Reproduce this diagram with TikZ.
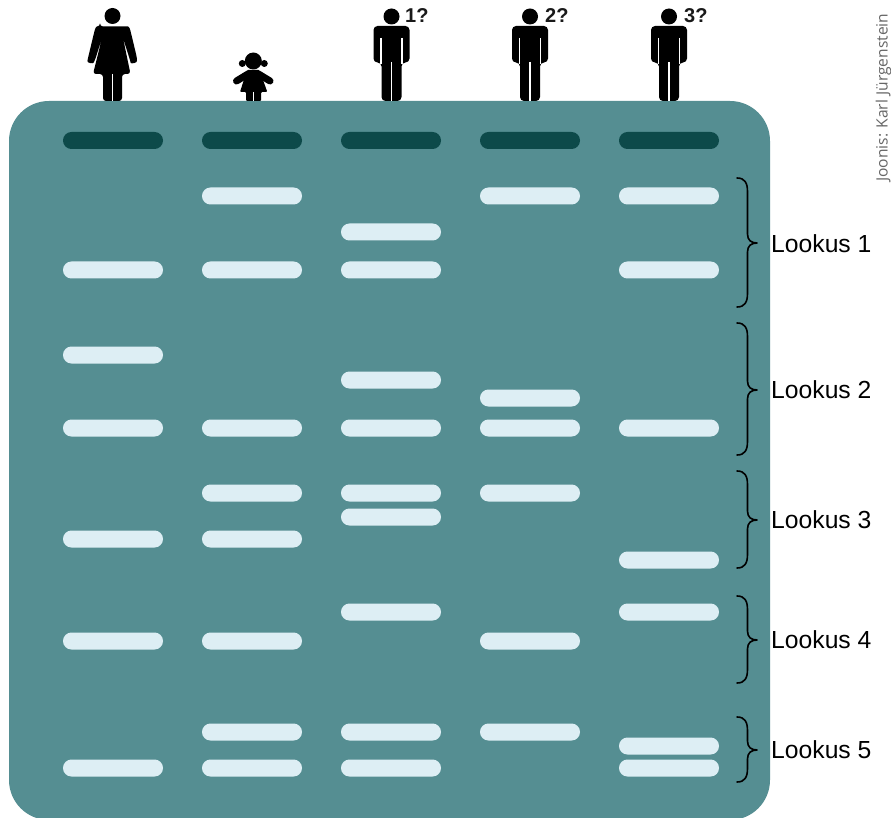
\documentclass[tikz,border=0pt]{standalone}
\usepackage{fontspec}
\setmainfont{Liberation Sans}
\newfontfamily\creditfont{Open Sans}
\definecolor{gelbg}{HTML}{558E92}
\definecolor{bandlight}{HTML}{DDEEF4}
\definecolor{banddark}{HTML}{0D4A4A}
\tikzset{
  band/.style={fill=bandlight,rounded corners=8.4pt},
  darkband/.style={fill=banddark,rounded corners=8.4pt},
  gap/.style={draw=white,line width=1.2pt},
  bracket/.style={draw=black,line width=1.6pt,line cap=round,line join=round},
  locuslabel/.style={anchor=west,inner sep=0pt,font=\fontsize{24.7}{25}\selectfont,text=black},
  qlabel/.style={anchor=west,inner sep=0pt,font=\bfseries\fontsize{20}{20}\selectfont,text=black!90},
  armlimb/.style={draw=black,line width=7pt,line cap=round},
}
\newcommand{\laneband}[2]{\path[band] (#1-50,#2-8.5) rectangle (#1+50,#2+8.5);}
\newcommand{\manfig}[1]{%
  \fill[black] (#1,16.5) circle (8);
  \fill[black,rounded corners=4pt] (#1-18,62.5) -- (#1-18,26) -- (#1+18,26) -- (#1+18,62.5) -- (#1+10,62.5) -- (#1+10,101) -- (#1-10,101) -- (#1-10,62.5) -- cycle;
  \draw[gap] (#1-10.5,38) -- (#1-10.5,64);
  \draw[gap] (#1+10.5,38) -- (#1+10.5,64);
  \draw[gap] (#1,62) -- (#1,101.5);
}
\newcommand{\locusbrace}[3]{%
  \draw[bracket] (737,#1) .. controls (745,#1) and (747.5,#1+5) .. (747.5,#1+14)
    -- (747.5,#3-9) .. controls (747.5,#3-3) and (751,#3) .. (757,#3)
    .. controls (751,#3) and (747.5,#3+3) .. (747.5,#3+9)
    -- (747.5,#2-14) .. controls (747.5,#2-5) and (745,#2) .. (737,#2);}
\begin{document}
\begin{tikzpicture}[x=1pt,y=-1pt]
\useasboundingbox (0,0) rectangle (891,818);
\clip (0,0) rectangle (891,818);
\fill[white] (0,0) rectangle (891,818);
\fill[gelbg,rounded corners=40pt] (9,101) rectangle (770,820);
% dark reference bands
\foreach \c in {113,252,391,530,669}
  \path[darkband] (\c-50,132) rectangle (\c+50,149);
% lanes
\foreach \y in {270,355,428,539,641,768} {\laneband{113}{\y}}
\foreach \y in {196,270,428,493,539,641,732,768} {\laneband{252}{\y}}
\foreach \y in {232,270,380,428,493,517,612,732,768} {\laneband{391}{\y}}
\foreach \y in {196,398,428,493,641,732} {\laneband{530}{\y}}
\foreach \y in {196,270,428,560,612,746,768} {\laneband{669}{\y}}
% braces
\locusbrace{178}{307}{243}
\locusbrace{323}{455}{390}
\locusbrace{471}{568}{520}
\locusbrace{596}{683}{640}
\locusbrace{717}{782}{750}
% locus labels
\node[locuslabel] (l1) at (771,243.5) {Lookus 1};
\node[locuslabel] (l2) at (771,390) {Lookus 2};
\node[locuslabel] (l3) at (771,520) {Lookus 3};
\node[locuslabel] (l4) at (771,640) {Lookus 4};
\node[locuslabel] (l5) at (771,750) {Lookus 5};
% woman
\fill[black] (112.5,16) circle (8);
\fill[black,rounded corners=3pt] (100,26.5) -- (125,26.5) .. controls (129,26.5) and (130,29) .. (131,33) -- (137,58) .. controls (137,63) and (131,64) .. (130,60) -- (123,38) -- (130.5,74) -- (122,74) -- (122,101) -- (103,101) -- (103,74) -- (93,74) -- (102,38) -- (95,60) .. controls (93,64) and (87,63) .. (88,58) -- (94,33) .. controls (95,29) and (96,26.5) .. (100,26.5) -- cycle;
\draw[gap,line width=1pt] (112.5,74) -- (112.5,101.5);
% girl
\fill[black] (253.3,61) circle (8.5);
\fill[black] (242.3,63.5) circle (3.5);
\fill[black] (264.3,63.5) circle (3.5);
\draw[armlimb] (248,74) -- (236.5,81);
\draw[armlimb] (258.5,74) -- (270,81);
\fill[black,rounded corners=1pt] (247,70) -- (259.5,70) -- (267.3,92) -- (261,92) -- (261,101) -- (246,101) -- (246,92) -- (240,92) -- cycle;
\draw[gap,line width=1pt] (253.3,92) -- (253.3,101.5);
% men
\manfig{391.5}
\manfig{530}
\manfig{669}
\node[qlabel] (q1) at (405,15.5) {1?};
\node[qlabel] (q2) at (545,15.5) {2?};
\node[qlabel] (q3) at (684,15.5) {3?};
% credit
\node[rotate=90,anchor=base west,inner sep=0pt,font=\creditfont\fontsize{15.6}{16}\selectfont,text=black!60] (credit) at (887.5,182) {Joonis: Karl Jürgenstein};
\end{tikzpicture}
\end{document}
